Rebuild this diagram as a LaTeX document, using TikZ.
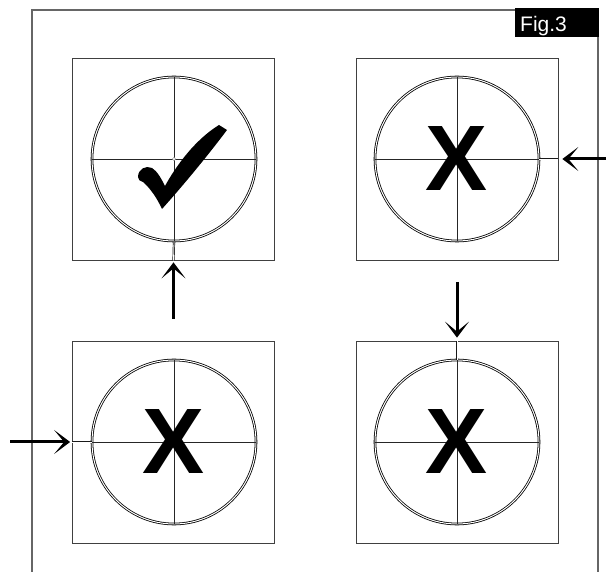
\documentclass[tikz,border=0pt]{standalone}
\usepackage{fontspec}
\setmainfont{Liberation Sans}
\usetikzlibrary{arrows.meta}
\begin{document}
\begin{tikzpicture}[x=1pt,y=-1pt,
  sqbox/.style={draw=black!75,line width=0.8pt,minimum width=202pt,minimum height=202pt,inner sep=0pt},
  ring/.style={circle,draw=black,double=white,double distance=1.0pt,line width=0.8pt,minimum size=164pt,inner sep=0pt},
  hair/.style={draw=black!85,line width=0.8pt},
  dbl/.style={draw=black!90,double=white,double distance=0.8pt,line width=0.7pt},
  arr/.style={line width=3pt,-{Stealth[length=16pt,width=24pt,inset=10pt]}},
  frame/.style={draw=black!60,line width=1.1pt},
  bigx/.style={font=\fontsize{93}{93}\bfseries\selectfont,inner sep=0pt}
]
\useasboundingbox (0,0) rectangle (614,572);

% outer frame and label
\node[fill=black,text=white,font=\fontsize{21}{21}\selectfont,inner xsep=5pt,inner ysep=0pt,
      text width=74pt,text height=23pt,text depth=6pt,anchor=north west] (fig) at (515,8) {Fig.3};
\coordinate (fbl) at (32,572);
\coordinate (ftl) at (32,10);
\coordinate (frt) at (598,37);
\coordinate (frb) at (598,572);
\draw[frame] (fbl) -- (ftl) -- (ftl -| fig.west);
\draw[frame] (frt) -- (frb);

% squares
\node[sqbox] (sqA) at (173.5,159) {};
\node[sqbox] (sqB) at (457,159) {};
\node[sqbox] (sqC) at (173.5,442) {};
\node[sqbox] (sqD) at (457,442) {};

% circles
\node[ring] (cA) at (174,159) {};
\node[ring] (cB) at (457,159) {};
\node[ring] (cC) at (174,442) {};
\node[ring] (cD) at (457,442) {};

% crosshairs
\foreach \c in {cA,cB,cC,cD}{
  \draw[hair] (\c.west) -- (\c.east);
  \draw[hair] (\c.north) -- (\c.south);
}

% double connectors circle -> square edge
\draw[dbl] (cA.south) -- (sqA.south);
\draw[dbl] (cB.east) -- (sqB.east);
\draw[dbl] (cC.west) -- (sqC.west);
\draw[dbl] (cD.north) -- (sqD.north);

% centre dot
\fill[white,draw=black!50,line width=0.3pt] (cA.center) circle (1.6pt);

% check mark
\fill[black] (138,177) .. controls (138,169) and (146,165) .. (152,168)
  .. controls (157,171) and (161,178) .. (165,186)
  .. controls (181,157) and (201,136) .. (219,125)
  -- (227,130)
  .. controls (212,150) and (188,180) .. (162,209)
  .. controls (157,198) and (150,188) .. (143,182)
  .. controls (140,181) and (138,180) .. (138,177) -- cycle;

% crosses
\node[bigx] (xB) at (cB.center) {X};
\node[bigx] (xC) at (cC.center) {X};
\node[bigx] (xD) at (cD.center) {X};

% arrows
\coordinate (tA) at (173.5,319);
\coordinate (tB) at (606,159);
\coordinate (tC) at (10,442);
\coordinate (tD) at (457,282);
\draw[arr,shorten >=2pt] (tA) -- (sqA.south);
\draw[arr,shorten >=4pt] (tB) -- (sqB.east);
\draw[arr,shorten >=2pt] (tC) -- (sqC.west);
\draw[arr,shorten >=3pt] (tD) -- (sqD.north);
\end{tikzpicture}
\end{document}
